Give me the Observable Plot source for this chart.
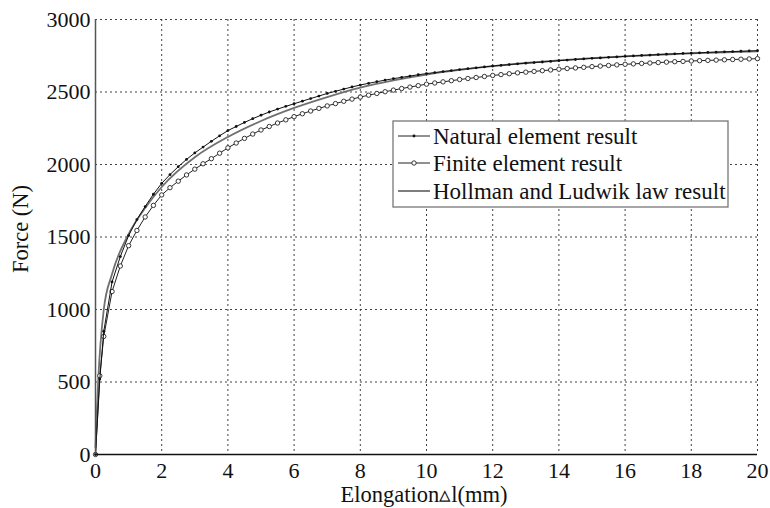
<!DOCTYPE html>
<html>
<head>
<meta charset="utf-8">
<script src="https://cdn.jsdelivr.net/npm/d3@7"></script>
<script src="https://cdn.jsdelivr.net/npm/@observablehq/plot@0.6"></script>
<style>
  html, body { margin: 0; padding: 0; background: #fff; }
  #chart { width: 770px; height: 508px; }
</style>
</head>
<body>
<div id="chart"></div>
<script>
// ---- Data ----
const seriesNames = ["Natural element result", "Finite element result", "Hollman and Ludwik law result"];

// Natural element result: elongation (mm), force (N)
const neX = [0, 0.13, 0.25, 0.5, 0.75, 1, 1.25, 1.5, 1.75, 2, 2.25, 2.5, 2.75, 3, 3.25, 3.5, 3.75, 4, 4.25, 4.5, 4.75, 5, 5.25, 5.5, 5.75, 6, 6.25, 6.5, 6.75, 7, 7.25, 7.5, 7.75, 8, 8.25, 8.5, 8.75, 9, 9.25, 9.5, 9.75, 10, 10.25, 10.5, 10.75, 11, 11.25, 11.5, 11.75, 12, 12.25, 12.5, 12.75, 13, 13.25, 13.5, 13.75, 14, 14.25, 14.5, 14.75, 15, 15.25, 15.5, 15.75, 16, 16.25, 16.5, 16.75, 17, 17.25, 17.5, 17.75, 18, 18.25, 18.5, 18.75, 19, 19.25, 19.5, 19.75, 20];
const neY = [0, 520, 850, 1190, 1365, 1510, 1620, 1710, 1795, 1870, 1930, 1985, 2035, 2080, 2120, 2160, 2198, 2234, 2262, 2290, 2316, 2340, 2362, 2382, 2401, 2419, 2437, 2455, 2472, 2490, 2505, 2520, 2535, 2548, 2560, 2571, 2582, 2592, 2601, 2610, 2619, 2627, 2634, 2641, 2648, 2655, 2661, 2667, 2673, 2679, 2684, 2689, 2694, 2699, 2703, 2707, 2711, 2716, 2720, 2724, 2728, 2732, 2735, 2739, 2742, 2746, 2749, 2752, 2755, 2758, 2761, 2763, 2766, 2768, 2770, 2773, 2775, 2777, 2779, 2781, 2783, 2785];

// Finite element result
const feX = [0, 0.13, 0.25, 0.5, 0.75, 1, 1.25, 1.5, 1.75, 2, 2.25, 2.5, 2.75, 3, 3.25, 3.5, 3.75, 4, 4.25, 4.5, 4.75, 5, 5.25, 5.5, 5.75, 6, 6.25, 6.5, 6.75, 7, 7.25, 7.5, 7.75, 8, 8.25, 8.5, 8.75, 9, 9.25, 9.5, 9.75, 10, 10.25, 10.5, 10.75, 11, 11.25, 11.5, 11.75, 12, 12.25, 12.5, 12.75, 13, 13.25, 13.5, 13.75, 14, 14.25, 14.5, 14.75, 15, 15.25, 15.5, 15.75, 16, 16.25, 16.5, 16.75, 17, 17.25, 17.5, 17.75, 18, 18.25, 18.5, 18.75, 19, 19.25, 19.5, 19.75, 20];
const feY = [0, 543, 814, 1124, 1300, 1440, 1545, 1638, 1718, 1790, 1840, 1885, 1928, 1968, 2005, 2040, 2078, 2115, 2148, 2180, 2210, 2238, 2262, 2286, 2308, 2330, 2350, 2369, 2387, 2404, 2420, 2436, 2451, 2465, 2478, 2490, 2502, 2513, 2524, 2534, 2544, 2554, 2562, 2570, 2578, 2586, 2593, 2600, 2607, 2614, 2620, 2626, 2632, 2637, 2642, 2647, 2652, 2657, 2662, 2666, 2670, 2675, 2679, 2683, 2687, 2691, 2694, 2697, 2700, 2703, 2706, 2709, 2711, 2714, 2716, 2718, 2720, 2722, 2724, 2726, 2728, 2730];

// Hollman and Ludwik law result
const hlX = [0, 0.02, 0.08, 0.25, 0.5, 1, 1.5, 2, 3, 4, 5, 6, 7, 8, 9, 10, 11, 12, 13, 14, 15, 16, 17, 18, 19, 20];
const hlY = [50, 170, 500, 1000, 1245, 1520, 1700, 1845, 2050, 2190, 2300, 2390, 2465, 2530, 2580, 2620, 2652, 2678, 2700, 2718, 2733, 2746, 2757, 2766, 2774, 2780];

const xTicks = [0, 2, 4, 6, 8, 10, 12, 14, 16, 18, 20];
const yTicks = [0, 500, 1000, 1500, 2000, 2500, 3000];
const xLabel = "Elongation\u25B5l(mm)";
const yLabel = "Force (N)";

// ---- Build tables ----
const ne = neX.map((x, i) => ({x, y: neY[i]}));
const fe = feX.map((x, i) => ({x, y: feY[i]}));
const hl = hlX.map((x, i) => ({x, y: hlY[i]}));

const FONT = "Liberation Serif, Times New Roman, serif";

const chart = Plot.plot({
  width: 770,
  height: 508,
  marginLeft: 95,
  marginRight: 13,
  marginTop: 19,
  marginBottom: 54,
  style: {fontFamily: FONT, fontSize: "22px", background: "#fff", color: "#111"},
  x: {domain: [0, 20], ticks: xTicks, label: null},
  y: {domain: [0, 3000], ticks: yTicks, label: null},
  marks: [
    Plot.gridX(xTicks.filter(d => d > 0), {stroke: "#222", strokeOpacity: 0.85, strokeWidth: 1, strokeDasharray: "2,3"}),
    Plot.gridY(yTicks.filter(d => d > 0), {stroke: "#222", strokeOpacity: 0.85, strokeWidth: 1, strokeDasharray: "2,3"}),
    Plot.axisX({ticks: xTicks, tickSize: 0, tickPadding: 8, fontSize: 22, label: null, tickFormat: d3.format("d")}),
    Plot.axisY({ticks: yTicks, tickSize: 0, tickPadding: 5, fontSize: 22, label: null, tickFormat: d3.format("d")}),
    Plot.line(hl, {x: "x", y: "y", stroke: "#707070", strokeWidth: 1.8, curve: "monotone-x"}),
    Plot.line(fe, {x: "x", y: "y", stroke: "#222", strokeWidth: 1}),
    Plot.dot(fe, {x: "x", y: "y", r: 2.2, stroke: "#222", strokeWidth: 0.9, fill: "#fff"}),
    Plot.line(ne, {x: "x", y: "y", stroke: "#111", strokeWidth: 1}),
    Plot.dot(ne, {x: "x", y: "y", r: 1.4, fill: "#111", stroke: "none"}),
    Plot.ruleX([0], {stroke: "#555", strokeWidth: 1.5}),
    Plot.ruleY([0], {stroke: "#111", strokeWidth: 1.3})
  ]
});

document.getElementById("chart").appendChild(chart);

// ---- Axis titles ----
const svg = d3.select(chart);
svg.append("text")
  .attr("x", 424).attr("y", 502)
  .attr("text-anchor", "middle")
  .style("font-size", "22.5px").attr("fill", "#111")
  .text(xLabel);

svg.append("text")
  .attr("transform", "translate(28,229) rotate(-90)")
  .attr("text-anchor", "middle")
  .style("font-size", "22.5px").attr("fill", "#111")
  .text(yLabel);

// ---- Legend ----
const lg = svg.append("g");
lg.append("rect").attr("x", 393).attr("y", 121).attr("width", 335).attr("height", 86)
  .attr("fill", "#fff").attr("stroke", "#777").attr("stroke-width", 1.3);
const rowsY = [136, 163, 191];
seriesNames.forEach((name, i) => {
  const yy = rowsY[i];
  lg.append("line").attr("x1", 398).attr("x2", 430).attr("y1", yy).attr("y2", yy)
    .attr("stroke", i === 2 ? "#707070" : "#222").attr("stroke-width", i === 2 ? 1.8 : 1);
  if (i === 0) lg.append("circle").attr("cx", 414).attr("cy", yy).attr("r", 1.4).attr("fill", "#111");
  if (i === 1) lg.append("circle").attr("cx", 414).attr("cy", yy).attr("r", 2.2).attr("fill", "#fff").attr("stroke", "#222").attr("stroke-width", 0.9);
  lg.append("text").attr("x", 433).attr("y", yy).attr("dy", "0.35em")
    .attr("text-anchor", "start")
    .style("font-size", "23px").attr("fill", "#111")
    .text(name);
});

// force serif font on every text (inline)
svg.attr("font-family", FONT).style("font-family", FONT);
svg.selectAll("text, tspan, g").style("font-family", FONT);
</script>
</body>
</html>
